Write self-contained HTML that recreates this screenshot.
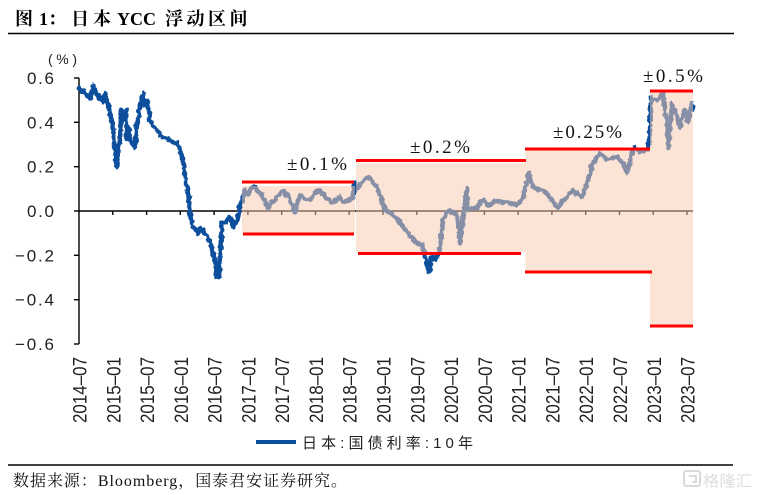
<!DOCTYPE html>
<html><head><meta charset="utf-8"><style>
html,body{margin:0;padding:0;background:#fff;}
svg{display:block;}
</style></head><body>
<svg width="759" height="495" viewBox="0 0 759 495" xmlns="http://www.w3.org/2000/svg">
<defs>
<filter id="rough" filterUnits="userSpaceOnUse" x="0" y="0" width="759" height="495">
<feTurbulence type="fractalNoise" baseFrequency="0.22" numOctaves="2" seed="7" result="n"/>
<feDisplacementMap in="SourceGraphic" in2="n" scale="4.5" xChannelSelector="R" yChannelSelector="G"/>
</filter>
</defs>
<rect width="759" height="495" fill="#fff"/>
<!-- Title -->
<g font-family="'Liberation Serif','Noto Serif CJK SC',serif" font-weight="bold" font-size="18" fill="#000">
<text x="15" y="25">图</text>
<text x="39" y="25">1：</text>
<text x="71" y="25" letter-spacing="4">日本</text>
<text x="117" y="25">YCC</text>
<text x="165" y="25" letter-spacing="3.5">浮动区间</text>
</g>
<line x1="8" y1="33.5" x2="734" y2="33.5" stroke="#000" stroke-width="1.5"/>

<!-- unit -->
<text x="48" y="64" font-family="'Liberation Sans','Noto Sans CJK SC',sans-serif" font-size="14" fill="#222" textLength="29" lengthAdjust="spacing">(%)</text>

<!-- y axis labels -->
<g font-family="'Liberation Sans','Noto Sans CJK SC',sans-serif" font-size="17" fill="#222" text-anchor="end">
<text x="54" y="84" textLength="27" lengthAdjust="spacing">0.6</text>
<text x="54" y="128.3" textLength="27" lengthAdjust="spacing">0.4</text>
<text x="54" y="172.7" textLength="27" lengthAdjust="spacing">0.2</text>
<text x="54" y="217" textLength="27" lengthAdjust="spacing">0.0</text>
<text x="54" y="261.3" textLength="39" lengthAdjust="spacing">−0.2</text>
<text x="54" y="305.7" textLength="39" lengthAdjust="spacing">−0.4</text>
<text x="54" y="350" textLength="39" lengthAdjust="spacing">−0.6</text>
</g>

<!-- axes -->
<g stroke="#000" stroke-width="1.4" fill="none">
<line x1="79" y1="78" x2="79" y2="344"/>
<line x1="74" y1="78" x2="79" y2="78"/>
<line x1="74" y1="122.3" x2="79" y2="122.3"/>
<line x1="74" y1="166.7" x2="79" y2="166.7"/>
<line x1="74" y1="211" x2="79" y2="211"/>
<line x1="74" y1="255.3" x2="79" y2="255.3"/>
<line x1="74" y1="299.7" x2="79" y2="299.7"/>
<line x1="74" y1="344" x2="79" y2="344"/>
<line x1="79" y1="211" x2="693" y2="211"/>
<path d="M112.8 211v4 M146.6 211v4 M180.3 211v4 M214.1 211v4 M247.9 211v4 M281.7 211v4 M315.5 211v4 M349.2 211v4 M383 211v4 M416.8 211v4 M450.6 211v4 M484.4 211v4 M518.1 211v4 M551.9 211v4 M585.7 211v4 M619.5 211v4 M653.3 211v4 M687 211v4"/>
</g>

<!-- series -->
<polyline filter="url(#rough)" fill="none" stroke="#0A4F9C" stroke-width="4.5" stroke-linejoin="round" stroke-linecap="round" points="79,88 81,90 84,92 87,95 90,99 92,90 93,85 95,93 98,95 101,100 103,102 105,93 107,100 110,113 112,122 114,140 116,160 117,167 118,150 120,140 121,115 122,110 124,120 126,110 127,140 129,130 131,142 135,147 137,125 140,107 142,98 143,93 145,105 147,100 149,112 150,120 153,125 157,130 160,135 163,137 166,138 170,140 173,142 177,143 180,150 183,160 185,175 187,187 189,200 190,213 192,222 193,227 196,230 198,233 201,228 205,233 208,238 210,242 212,248 215,260 216,270 217,277 219,277 220,255 222,223 225,222 227,220 230,217 233,227 235,222 237,223 239,212 240,203 242,202 245,190 248,194 252,188 255,187 258,192 260,193 263,197 266,204 268,208 271,203 275,200 279,195 283,190 286,194 288,195 292,205 295,212 298,200 300,195 305,199 310,200 315,193 320,190 324,196 327,198 330,201 333,203 337,199 340,197 344,202 348,200 351,199 353,198 355,183 358,188 360,185 364,180 368,177 372,181 377,187 381,198 385,210 388,212 390,213 394,216 397,218 400,222 403,227 407,232 412,237 415,241 417,243 420,244 422,245 425,255 427,263 429,273 431,262 432,257 435,259 437,258 440,247 443,220 446,214 450,210 454,213 457,215 459,230 460,243 462,228 463,217 466,195 467,188 468,210 472,209 477,207 480,203 483,200 487,204 490,205 494,202 497,200 502,203 507,202 512,204 517,205 520,202 523,197 526,185 528,177 529,173 531,182 533,187 537,189 543,190 547,194 550,197 554,203 558,208 562,202 567,197 570,193 573,190 577,194 582,197 585,188 588,180 591,170 593,163 597,157 600,153 604,157 607,160 612,158 617,157 620,160 623,163 625,168 627,173 629,166 630,160 633,151 635,147 638,150 640,152 644,151 648,150 650,130 651,97 654,99 657,100 660,97 663,93 665,110 667,123 668,148 669,140 670,127 672,103 675,110 677,117 680,127 682,118 685,110 688,123 690,112 692,103 693,110"/>

<!-- band overlays -->
<g fill="rgba(247,203,176,0.52)">
<rect x="242" y="186" width="113" height="47"/>
<rect x="356" y="163" width="169.5" height="89"/>
<rect x="525.5" y="150.5" width="124.5" height="120"/>
<rect x="650" y="92.5" width="43" height="232"/>
</g>

<!-- red band lines -->
<g stroke="#FF0000" stroke-width="3">
<line x1="242" y1="182" x2="354" y2="182"/>
<line x1="243" y1="234" x2="354" y2="234"/>
<line x1="356" y1="160.5" x2="526" y2="160.5"/>
<line x1="358" y1="253.5" x2="521" y2="253.5"/>
<line x1="525" y1="149" x2="650" y2="149"/>
<line x1="525" y1="272" x2="652" y2="272"/>
<line x1="650" y1="91" x2="693" y2="91"/>
<line x1="650" y1="326" x2="693" y2="326"/>
</g>

<!-- band labels -->
<g font-family="'Liberation Serif','Noto Serif CJK SC',serif" font-size="19" fill="#111">
<text x="287" y="170" textLength="60" lengthAdjust="spacing">±0.1%</text>
<text x="410" y="153" textLength="60" lengthAdjust="spacing">±0.2%</text>
<text x="553" y="138" textLength="69" lengthAdjust="spacing">±0.25%</text>
<text x="643" y="82" textLength="60" lengthAdjust="spacing">±0.5%</text>
</g>

<!-- x labels -->
<g font-family="'Liberation Sans',sans-serif" font-size="19.5" fill="#222">
<text transform="translate(86.5,423) rotate(-90)" textLength="66" lengthAdjust="spacingAndGlyphs">2014–07</text>
<text transform="translate(120.3,423) rotate(-90)" textLength="66" lengthAdjust="spacingAndGlyphs">2015–01</text>
<text transform="translate(154.1,423) rotate(-90)" textLength="66" lengthAdjust="spacingAndGlyphs">2015–07</text>
<text transform="translate(187.8,423) rotate(-90)" textLength="66" lengthAdjust="spacingAndGlyphs">2016–01</text>
<text transform="translate(221.6,423) rotate(-90)" textLength="66" lengthAdjust="spacingAndGlyphs">2016–07</text>
<text transform="translate(255.4,423) rotate(-90)" textLength="66" lengthAdjust="spacingAndGlyphs">2017–01</text>
<text transform="translate(289.2,423) rotate(-90)" textLength="66" lengthAdjust="spacingAndGlyphs">2017–07</text>
<text transform="translate(323,423) rotate(-90)" textLength="66" lengthAdjust="spacingAndGlyphs">2018–01</text>
<text transform="translate(356.7,423) rotate(-90)" textLength="66" lengthAdjust="spacingAndGlyphs">2018–07</text>
<text transform="translate(390.5,423) rotate(-90)" textLength="66" lengthAdjust="spacingAndGlyphs">2019–01</text>
<text transform="translate(424.3,423) rotate(-90)" textLength="66" lengthAdjust="spacingAndGlyphs">2019–07</text>
<text transform="translate(458.1,423) rotate(-90)" textLength="66" lengthAdjust="spacingAndGlyphs">2020–01</text>
<text transform="translate(491.9,423) rotate(-90)" textLength="66" lengthAdjust="spacingAndGlyphs">2020–07</text>
<text transform="translate(525.6,423) rotate(-90)" textLength="66" lengthAdjust="spacingAndGlyphs">2021–01</text>
<text transform="translate(559.4,423) rotate(-90)" textLength="66" lengthAdjust="spacingAndGlyphs">2021–07</text>
<text transform="translate(593.2,423) rotate(-90)" textLength="66" lengthAdjust="spacingAndGlyphs">2022–01</text>
<text transform="translate(627,423) rotate(-90)" textLength="66" lengthAdjust="spacingAndGlyphs">2022–07</text>
<text transform="translate(660.8,423) rotate(-90)" textLength="66" lengthAdjust="spacingAndGlyphs">2023–01</text>
<text transform="translate(694.5,423) rotate(-90)" textLength="66" lengthAdjust="spacingAndGlyphs">2023–07</text>
</g>

<!-- legend -->
<line x1="256" y1="442" x2="296" y2="442" stroke="#0A4F9C" stroke-width="4"/>
<text x="302" y="448" font-family="'Liberation Sans','Noto Sans CJK SC',sans-serif" font-size="15" fill="#222" textLength="171" lengthAdjust="spacing">日本:国债利率:10年</text>

<!-- footer -->
<line x1="8" y1="465" x2="733" y2="465" stroke="#000" stroke-width="1.5"/>
<text x="13" y="486" font-family="'Liberation Serif','Noto Serif CJK SC',serif" font-size="16" fill="#111" textLength="334" lengthAdjust="spacing">数据来源：Bloomberg，国泰君安证券研究。</text>

<!-- watermark -->
<g opacity="0.9">
<rect x="684" y="471" width="16" height="15" rx="2" fill="none" stroke="#d6d6d6" stroke-width="2"/>
<path d="M689 476h7v6h-4" fill="none" stroke="#d6d6d6" stroke-width="2"/>
<text x="703" y="486" font-family="'Noto Sans CJK SC',sans-serif" font-size="15" fill="#dadada" textLength="49" lengthAdjust="spacingAndGlyphs">格隆汇</text>
</g>
</svg>
</body></html>
